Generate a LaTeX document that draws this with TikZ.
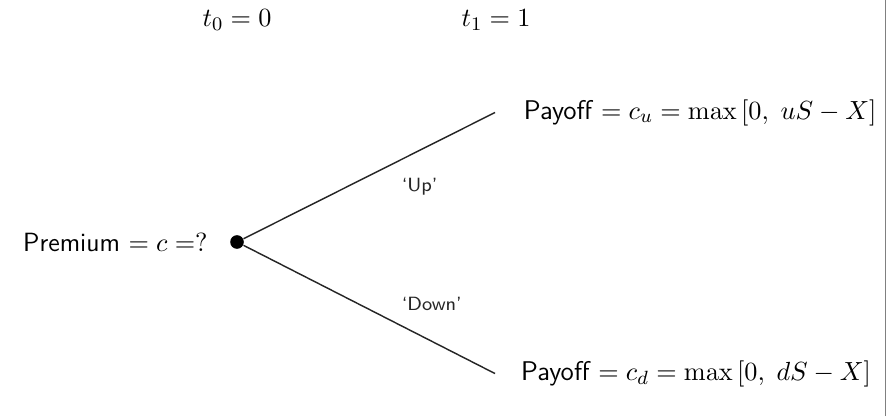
\documentclass[tikz,border=0pt]{standalone}
\usetikzlibrary{positioning}
\tikzset{
  txt/.style={font=\sffamily\fontsize{11}{13}\selectfont},
  paytxt/.style={font=\sffamily\fontsize{11.3}{13}\selectfont},
  lbl/.style={font=\sffamily\footnotesize},
  branch/.style={semithick,black!85}
}
\begin{document}
\begin{tikzpicture}
\useasboundingbox (-3.477,-2.553) rectangle (9.52,3.55);
%frame edge
\draw[gray] (9.505,-2.553)--(9.505,3.55);
%times
\node[txt] (tZero) at (0,3.26) {$t_0=0$};
\node[txt] (tOne) at (3.8,3.26) {$t_1=1$};
%tree
\node[circle,fill,inner sep=0pt,minimum size=0.2cm] (root) at (0,0) {};
\node[txt,left=0.2cm of root] (prem) {Premium $= c =?$};
\coordinate (uTip) at (3.785,1.9);
\coordinate (dTip) at (3.785,-1.93);
\draw[branch] (root)--(uTip)node[lbl,pos=0.6,shift={(0.37,-0.35)}]{`Up'};
\draw[branch] (root)--(dTip)node[lbl,pos=0.7,shift={(0.18,0.455)}]{`Down'};
\node[paytxt,right=0.3cm of uTip] (uPay) {Payoff $= c_u = \max\,[0,\; uS-X]$};
\node[paytxt,right=0.26cm of dTip] (dPay) {Payoff $= c_d = \max\,[0,\; dS-X]$};
\end{tikzpicture}
\end{document}
